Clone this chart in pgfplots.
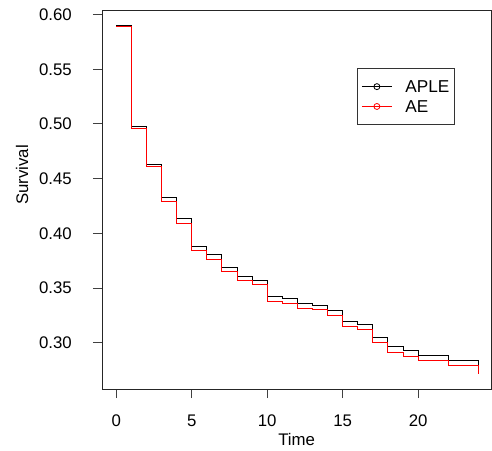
\documentclass[border=0pt]{standalone}
\usepackage{fontspec}
\setmainfont{Liberation Sans}
\usepackage{pgfplots}
\pgfplotsset{compat=1.18}
\begin{document}
\fontsize{16.8}{20}\selectfont
\begin{tikzpicture}[x=1pt,y=1pt]
\useasboundingbox (0,0) rectangle (492,450);
\begin{axis}[
  at={(102pt,61pt)}, anchor=south west,
  scale only axis, width=389.3pt, height=378.3pt,
  xmin=-0.95, xmax=24.85, ymin=0.2577, ymax=0.6035,
  xtick={0,5,10,15,20},
  ytick={0.30,0.35,0.40,0.45,0.50,0.55,0.60},
  tick align=outside, major tick length=9pt,
  xtick pos=bottom, ytick pos=left,
  tick style={black!75, line width=0.9pt},
  axis line style={black!85, line width=0.9pt},
  /pgf/number format/assume math mode=true,
  y tick label style={/pgf/number format/fixed, /pgf/number format/fixed zerofill,
    /pgf/number format/precision=2, anchor=east, inner sep=0pt, xshift=-21pt},
  x tick label style={anchor=north, inner sep=0pt, yshift=-17pt},
  xlabel={Time}, ylabel={Survival},
  xlabel style={at={(axis description cs:0.5,0)}, anchor=north, inner sep=0pt, yshift=-44pt},
  ylabel style={at={(axis description cs:-0.2055,0.566)}, anchor=center, inner sep=0pt},
  legend cell align=left,
  legend style={at={(axis description cs:0.655,0.849)}, anchor=north west,
    draw=black!80, line width=0.8pt, inner xsep=4pt, inner ysep=11.5pt,
    row sep=6pt, column sep=12pt,
    nodes={inner sep=1pt, text depth=0pt, font=\fontsize{17.2}{20}\selectfont}},
  legend image code/.code={
    \draw[#1] (0pt,0pt) -- (30pt,0pt);
    \draw[#1, line width=0.8pt] (15pt,0pt) circle (3pt);
  },
]
\addplot[const plot, black, line width=1pt] coordinates {
  (0,0.590) (1,0.4978) (2,0.4632) (3,0.4330) (4,0.4133) (5,0.3878)
  (6,0.3809) (7,0.3687) (8,0.3605) (9,0.3569) (10,0.3421) (11,0.3406)
  (12,0.3358) (13,0.3343) (14,0.3297) (15,0.3195) (16,0.3167) (17,0.3049)
  (18,0.2967) (19,0.2927) (20,0.2885) (22,0.2836) (24,0.2780)
};
\addlegendentry{APLE}
\addplot[const plot, red, line width=1pt] coordinates {
  (0,0.589) (1,0.4954) (2,0.4608) (3,0.4294) (4,0.4091) (5,0.3845)
  (6,0.3760) (7,0.3651) (8,0.3566) (9,0.3530) (10,0.3375) (11,0.3357)
  (12,0.3315) (13,0.3300) (14,0.3252) (15,0.3150) (16,0.3125) (17,0.3004)
  (18,0.2913) (19,0.2876) (20,0.2840) (22,0.2788) (24,0.2712)
};
\addlegendentry{AE}
\end{axis}
\end{tikzpicture}
\end{document}
